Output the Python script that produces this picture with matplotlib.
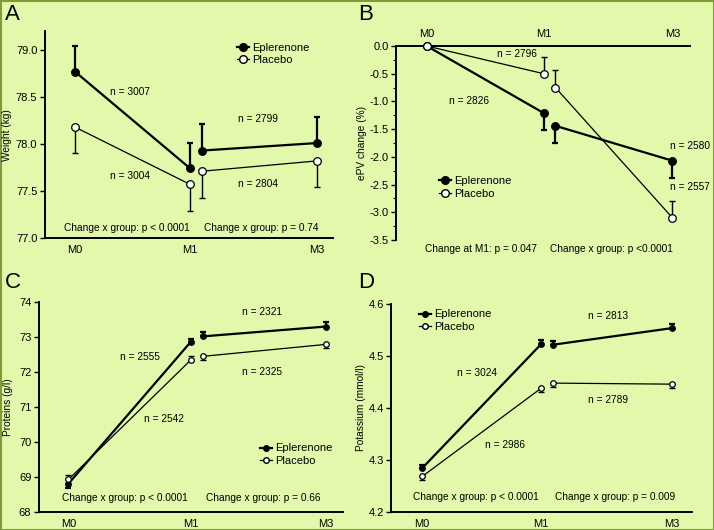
"""Four-panel eplerenone vs placebo figure (weight, ePV, proteins, potassium)."""

import matplotlib
matplotlib.use("Agg")
import matplotlib.pyplot as plt
from matplotlib.lines import Line2D
from matplotlib.patches import Rectangle
from matplotlib.ticker import MultipleLocator

plt.rcParams["font.family"] = ["Liberation Sans", "DejaVu Sans"]

# x positions: M0, M1 (end of first period), M1 (start of second), M3
POS = [0.0, 1.0, 1.1, 2.1]
TICK_POS = [0.0, 1.0, 2.1]
TICK_LABELS = ["M0", "M1", "M3"]

# ─── Data ────────────────────────────────────────────────────────────────────
# A: weight (kg)
weight_epl = [78.77, 77.74, 77.93, 78.01]
weight_epl_err = [0.27, 0.27, 0.28, 0.28]
weight_pla = [78.18, 77.57, 77.71, 77.82]
weight_pla_err = [0.28, 0.28, 0.28, 0.28]

# B: ePV change (%)
epv_epl = [0.0, -1.21, -1.44, -2.07]
epv_epl_err = [0.0, 0.30, 0.31, 0.31]
epv_pla = [0.0, -0.50, -0.75, -3.10]
epv_pla_err = [0.0, 0.30, 0.31, 0.30]

# C: proteins (g/l)
prot_epl = [68.80, 72.86, 73.01, 73.29]
prot_epl_err = [0.11, 0.08, 0.12, 0.12]
prot_pla = [68.92, 72.34, 72.44, 72.78]
prot_pla_err = [0.12, 0.12, 0.11, 0.10]

# D: potassium (mmol/l)
k_epl = [4.284, 4.523, 4.522, 4.554]
k_epl_err = [0.007, 0.008, 0.008, 0.008]
k_pla = [4.268, 4.438, 4.448, 4.446]
k_pla_err = [0.007, 0.007, 0.007, 0.007]

BG = "#e2f8aa"
BORDER = "#7f9b3c"
FS = 7.3

fig = plt.figure(figsize=(7.14, 5.3), dpi=100, facecolor=BG)
fig.patches.append(Rectangle((0, 0), 1, 1, transform=fig.transFigure,
                             fill=False, edgecolor=BORDER, linewidth=2.2))


def _axes(px_left, px_right, px_top, px_bottom):
    W, H = 714.0, 530.0
    return fig.add_axes([px_left / W, 1 - px_bottom / H,
                         (px_right - px_left) / W, (px_bottom - px_top) / H])


def _series(ax, y_epl, e_epl, y_pla, e_pla, epl_dir, pla_dir, ms):
    # two segments per group: M0-M1 and M1'-M3
    for seg in ([0, 1], [2, 3]):
        x = [POS[i] for i in seg]
        ax.plot(x, [y_epl[i] for i in seg], color="black", lw=1.6, zorder=3)
        ax.plot(x, [y_pla[i] for i in seg], color="black", lw=0.9, zorder=3)
    for ys, es, dirs, lw in ((y_epl, e_epl, epl_dir, 1.6), (y_pla, e_pla, pla_dir, 1.0)):
        lo = [e if d < 0 else 0 for e, d in zip(es, dirs)]
        hi = [e if d > 0 else 0 for e, d in zip(es, dirs)]
        keep = [i for i, e in enumerate(es) if e > 0]
        ax.errorbar([POS[i] for i in keep], [ys[i] for i in keep],
                    yerr=[[lo[i] for i in keep], [hi[i] for i in keep]],
                    fmt="none", ecolor="black", elinewidth=lw, capsize=2.2,
                    capthick=lw, zorder=2)
    ax.plot(POS, y_epl, "o", ms=ms, mfc="black", mec="black", mew=0.9,
            ls="none", zorder=4, clip_on=False)
    ax.plot(POS, y_pla, "o", ms=ms, mfc="white", mec="black", mew=0.9,
            ls="none", zorder=4, clip_on=False)


def _style(ax, xlim, ylim, top_axis=False):
    ax.set_facecolor(BG)
    ax.set_xlim(*xlim)
    ax.set_ylim(*ylim)
    for side in ("right", "top", "bottom", "left"):
        ax.spines[side].set_visible(False)
    ax.spines["left"].set_visible(True)
    ax.spines["left"].set_linewidth(1.4)
    main = "top" if top_axis else "bottom"
    ax.spines[main].set_visible(True)
    ax.spines[main].set_linewidth(1.4)
    ax.set_xticks(TICK_POS)
    ax.set_xticklabels(TICK_LABELS)
    ax.tick_params(axis="x", length=0, labelsize=8, pad=5,
                   top=top_axis, bottom=not top_axis,
                   labeltop=top_axis, labelbottom=not top_axis)
    ax.tick_params(axis="y", which="major", direction="out", length=3.5,
                   width=1.0, labelsize=8, pad=2)
    ax.tick_params(axis="y", which="minor", direction="out", length=2, width=0.8)


def _legend(ax, anchor, ms):
    handles = [
        Line2D([], [], color="black", lw=1.6, marker="o", ms=ms, mfc="black", mec="black"),
        Line2D([], [], color="black", lw=0.9, marker="o", ms=ms, mfc="white", mec="black"),
    ]
    ax.legend(handles, ["Eplerenone", "Placebo"], loc="upper left",
              bbox_to_anchor=anchor, frameon=False, fontsize=8,
              handlelength=1.1, handletextpad=0.3, labelspacing=0.25,
              borderpad=0, borderaxespad=0)


def _texts(ax, items):
    for x, y, s, ha in items:
        ax.text(x, y, s, ha=ha, va="center", fontsize=FS, clip_on=False)


# ─── A ───────────────────────────────────────────────────────────────────────
axA = _axes(45, 333, 31.2, 238)
_series(axA, weight_epl, weight_epl_err, weight_pla, weight_pla_err,
        [1, 1, 1, 1], [-1, -1, -1, -1], ms=5.5)
_style(axA, (-0.26, 2.24), (77.0, 79.2))
axA.set_yticks([77.0, 77.5, 78.0, 78.5, 79.0])
axA.set_yticklabels(["77.0", "77.5", "78.0", "78.5", "79.0"])
_legend(axA, (0.666, 0.945), ms=5.5)
_texts(axA, [
    (0.48, 78.55, "n = 3007", "center"),
    (0.48, 77.66, "n = 3004", "center"),
    (1.59, 78.27, "n = 2799", "center"),
    (1.59, 77.57, "n = 2804", "center"),
    (0.45, 77.11, "Change x group: p < 0.0001", "center"),
    (1.62, 77.11, "Change x group: p = 0.74", "center"),
])

# ─── B ───────────────────────────────────────────────────────────────────────
axB = _axes(396.3, 690, 46, 240)
_series(axB, epv_epl, epv_epl_err, epv_pla, epv_pla_err,
        [0, -1, -1, -1], [0, 1, 1, 1], ms=5.5)
_style(axB, (-0.26, 2.25), (-3.5, 0.0), top_axis=True)
axB.set_yticks([-3.5, -3.0, -2.5, -2.0, -1.5, -1.0, -0.5, 0.0])
axB.set_yticklabels(["-3.5", "-3.0", "-2.5", "-2.0", "-1.5", "-1.0", "-0.5", "0.0"])
axB.yaxis.set_minor_locator(MultipleLocator(0.25))
_legend(axB, (0.144, 0.33), ms=5.5)
_texts(axB, [
    (0.77, -0.15, "n = 2796", "center"),
    (0.36, -0.99, "n = 2826", "center"),
    (2.08, -1.80, "n = 2580", "left"),
    (2.08, -2.54, "n = 2557", "left"),
    (0.46, -3.66, "Change at M1: p = 0.047", "center"),
    (1.58, -3.66, "Change x group: p <0.0001", "center"),
])

# ─── C ───────────────────────────────────────────────────────────────────────
axC = _axes(39, 343, 301.7, 511.7)
_series(axC, prot_epl, prot_epl_err, prot_pla, prot_pla_err,
        [-1, 1, 1, 1], [1, 1, -1, -1], ms=4)
_style(axC, (-0.24, 2.24), (68, 74))
axC.set_yticks([68, 69, 70, 71, 72, 73, 74])
_legend(axC, (0.727, 0.325), ms=4)
_texts(axC, [
    (0.58, 72.43, "n = 2555", "center"),
    (0.78, 70.65, "n = 2542", "center"),
    (1.58, 73.70, "n = 2321", "center"),
    (1.58, 71.98, "n = 2325", "center"),
    (0.46, 68.40, "Change x group: p < 0.0001", "center"),
    (1.59, 68.40, "Change x group: p = 0.66", "center"),
])

# ─── D ───────────────────────────────────────────────────────────────────────
axD = _axes(391.3, 692, 304.3, 511.7)
_series(axD, k_epl, k_epl_err, k_pla, k_pla_err,
        [1, 1, 1, 1], [-1, -1, -1, -1], ms=4)
_style(axD, (-0.26, 2.27), (4.2, 4.6))
axD.set_yticks([4.2, 4.3, 4.4, 4.5, 4.6])
axD.set_yticklabels(["4.2", "4.3", "4.4", "4.5", "4.6"])
_legend(axD, (0.091, 0.975), ms=4)
_texts(axD, [
    (1.56, 4.577, "n = 2813", "center"),
    (0.46, 4.467, "n = 3024", "center"),
    (0.70, 4.329, "n = 2986", "center"),
    (1.56, 4.415, "n = 2789", "center"),
    (0.45, 4.228, "Change x group: p < 0.0001", "center"),
    (1.62, 4.228, "Change x group: p = 0.009", "center"),
])

# ─── y labels and panel letters ──────────────────────────────────────────────
for px, py, s in ((7, 135, "Weight (kg)"), (362, 143, "ePV change (%)"),
                  (8, 407, "Proteins (g/l)"), (361, 408, "Potassium (mmol/l)")):
    fig.text(px / 714, 1 - py / 530, s, rotation=90, ha="center", va="center",
             fontsize=FS)

for px, py, s in ((5, 4, "A"), (358, 4, "B"), (5, 272, "C"), (358, 272, "D")):
    fig.text(px / 714, 1 - py / 530, s, ha="left", va="top", fontsize=16)

fig.savefig("out.png", dpi=100, facecolor=BG)
